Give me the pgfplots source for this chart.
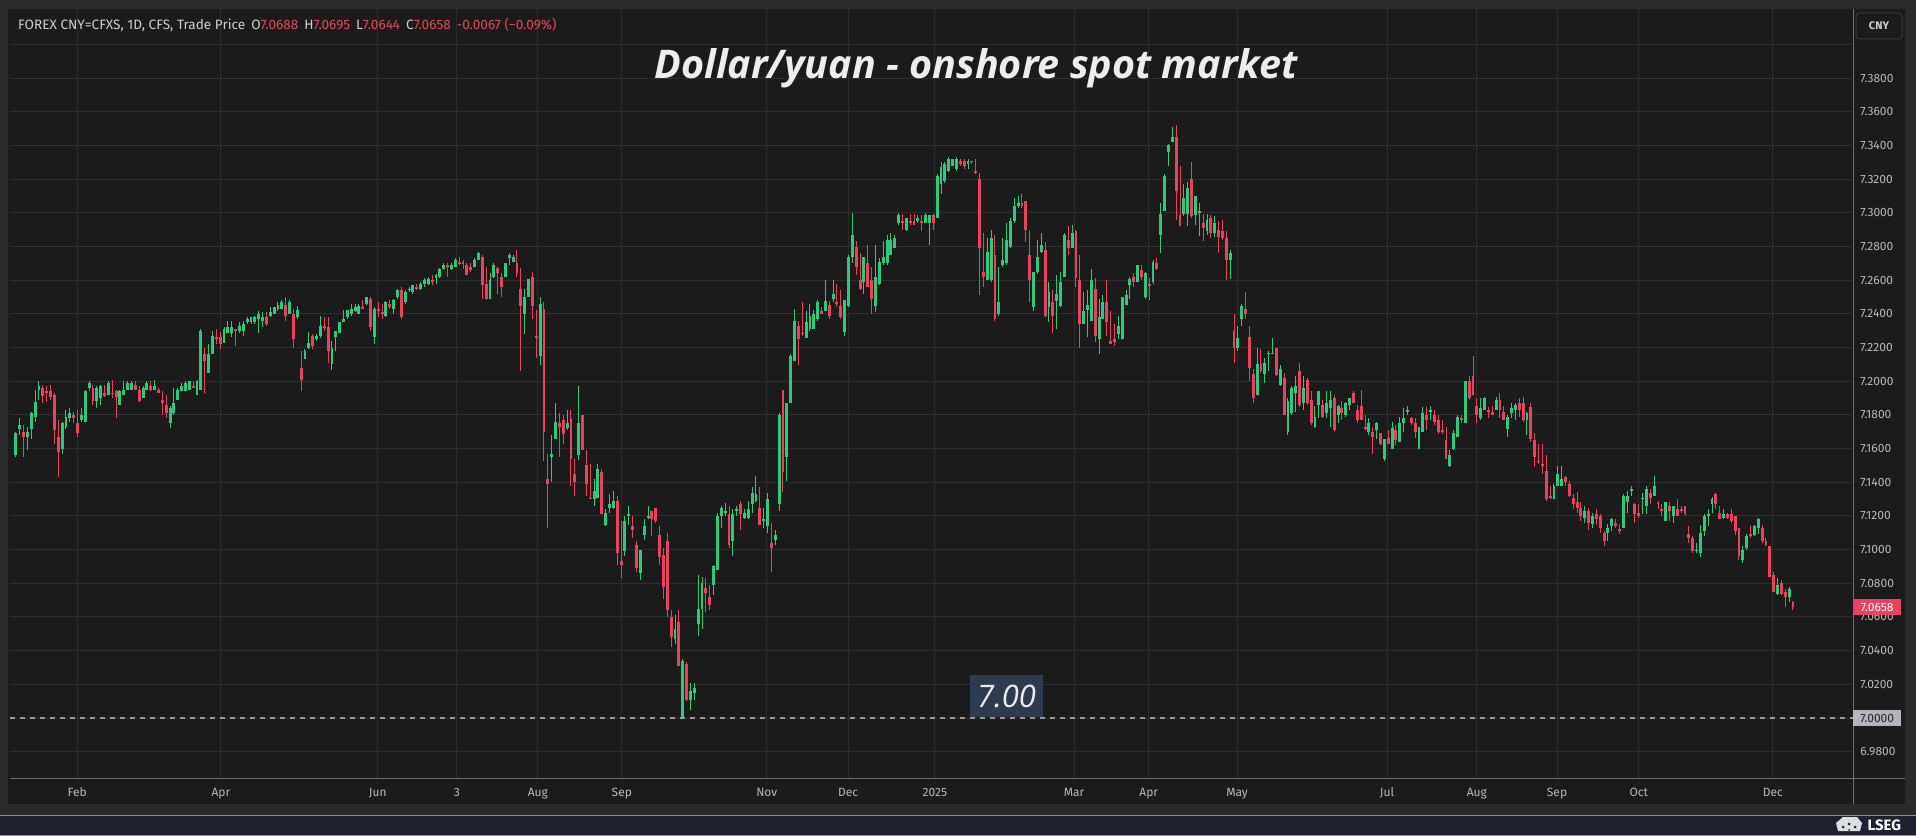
\documentclass[border=0pt]{standalone}
\usepackage{pgfplots}
\pgfplotsset{compat=1.18}
\usepackage{pgfplotstable}
\usepackage{fontspec}
\setmainfont{Fira Sans}
\newfontfamily\titlefont{Open Sans}

\definecolor{frame}{HTML}{2A2A2A}
\definecolor{panel}{HTML}{1B1B1B}
\definecolor{gridc}{HTML}{2C2C2C}
\definecolor{sepc}{HTML}{6E6E6E}
\definecolor{footer}{HTML}{1E2230}
\definecolor{footline}{HTML}{8A8E98}
\definecolor{ticktext}{HTML}{B8B8B8}
\definecolor{hdr}{HTML}{CFCFCF}
\definecolor{hred}{HTML}{E2475F}
\definecolor{upc}{HTML}{2DC97E}
\definecolor{dnc}{HTML}{E8425F}
\definecolor{dashc}{HTML}{9A9A9A}
\definecolor{annbox}{HTML}{2D3B50}
\definecolor{pxbox}{HTML}{B2B5BE}

% daily OHLC, i = trading-day index
\pgfplotstableread{
i o h l c
1 7.156 7.170 7.155 7.169
2 7.172 7.178 7.168 7.174
3 7.170 7.174 7.155 7.167
4 7.167 7.173 7.159 7.170
5 7.172 7.182 7.166 7.181
6 7.179 7.195 7.176 7.188
7 7.195 7.200 7.189 7.197
8 7.196 7.198 7.187 7.191
9 7.194 7.197 7.188 7.193
10 7.194 7.198 7.189 7.191
11 7.192 7.193 7.163 7.171
12 7.167 7.177 7.143 7.158
13 7.160 7.176 7.157 7.175
14 7.173 7.183 7.172 7.179
15 7.178 7.184 7.176 7.181
16 7.180 7.182 7.175 7.178
17 7.175 7.183 7.167 7.169
18 7.177 7.184 7.176 7.180
19 7.176 7.195 7.176 7.194
20 7.196 7.200 7.194 7.199
21 7.196 7.198 7.186 7.188
22 7.188 7.197 7.184 7.196
23 7.190 7.198 7.186 7.197
24 7.193 7.198 7.191 7.191
25 7.192 7.200 7.192 7.199
26 7.193 7.201 7.190 7.1925
27 7.194 7.195 7.178 7.191
28 7.186 7.195 7.186 7.194
29 7.192 7.200 7.192 7.195
30 7.195 7.200 7.195 7.199
31 7.195 7.200 7.195 7.199
32 7.198 7.200 7.195 7.195
33 7.195 7.197 7.188 7.188
34 7.190 7.197 7.190 7.196
35 7.195 7.200 7.195 7.199
36 7.197 7.200 7.194 7.195
37 7.195 7.201 7.195 7.197
38 7.195 7.196 7.193 7.193
39 7.189 7.194 7.180 7.187
40 7.186 7.192 7.178 7.181
41 7.175 7.185 7.172 7.184
42 7.181 7.196 7.180 7.187
43 7.189 7.196 7.189 7.195
44 7.194 7.199 7.194 7.197
45 7.194 7.200 7.194 7.199
46 7.195 7.200 7.195 7.200
47 7.197 7.200 7.196 7.1965
48 7.192 7.201 7.192 7.200
49 7.195 7.231 7.195 7.230
50 7.216 7.220 7.193 7.212
51 7.205 7.222 7.205 7.216
52 7.216 7.230 7.216 7.227
53 7.226 7.231 7.222 7.225
54 7.226 7.229 7.219 7.222
55 7.223 7.232 7.223 7.231
56 7.229 7.236 7.229 7.232
57 7.229 7.236 7.226 7.232
58 7.231 7.231 7.221 7.230
59 7.230 7.235 7.229 7.233
60 7.230 7.236 7.227 7.234
61 7.235 7.238 7.234 7.237
62 7.235 7.238 7.234 7.238
63 7.235 7.239 7.234 7.238
64 7.237 7.242 7.229 7.240
65 7.236 7.241 7.232 7.238
66 7.238 7.241 7.233 7.234
67 7.239 7.244 7.238 7.241
68 7.240 7.244 7.240 7.244
69 7.243 7.247 7.242 7.245
70 7.243 7.248 7.243 7.247
71 7.245 7.250 7.236 7.239
72 7.240 7.248 7.240 7.247
73 7.240 7.243 7.220 7.225
74 7.238 7.245 7.237 7.242
75 7.208 7.218 7.194 7.201
76 7.213 7.219 7.213 7.218
77 7.220 7.229 7.219 7.223
78 7.227 7.228 7.219 7.221
79 7.225 7.228 7.224 7.227
80 7.227 7.239 7.226 7.233
81 7.233 7.238 7.230 7.232
82 7.232 7.238 7.211 7.218
83 7.210 7.224 7.207 7.220
84 7.226 7.230 7.218 7.230
85 7.229 7.235 7.229 7.235
86 7.235 7.242 7.235 7.237
87 7.238 7.242 7.237 7.242
88 7.240 7.246 7.239 7.243
89 7.242 7.246 7.241 7.244
90 7.240 7.246 7.240 7.245
91 7.244 7.248 7.243 7.243
92 7.246 7.250 7.245 7.250
93 7.249 7.250 7.230 7.232
94 7.226 7.244 7.222 7.243
95 7.243 7.247 7.238 7.242
96 7.241 7.246 7.237 7.240
97 7.239 7.248 7.238 7.247
98 7.246 7.248 7.243 7.244
99 7.243 7.249 7.240 7.248
100 7.250 7.255 7.249 7.254
101 7.254 7.256 7.237 7.238
102 7.247 7.254 7.246 7.253
103 7.254 7.256 7.253 7.255
104 7.253 7.257 7.252 7.257
105 7.256 7.258 7.254 7.255
106 7.255 7.259 7.254 7.258
107 7.258 7.261 7.256 7.260
108 7.258 7.262 7.257 7.261
109 7.260 7.263 7.257 7.259
110 7.261 7.264 7.258 7.263
111 7.262 7.267 7.261 7.267
112 7.267 7.270 7.267 7.269
113 7.269 7.270 7.262 7.268
114 7.267 7.270 7.266 7.269
115 7.268 7.273 7.268 7.272
116 7.271 7.274 7.269 7.270
117 7.271 7.272 7.267 7.270
118 7.269 7.270 7.263 7.263
119 7.268 7.270 7.265 7.266
120 7.268 7.273 7.268 7.272
121 7.272 7.277 7.272 7.276
122 7.274 7.275 7.249 7.257
123 7.258 7.268 7.248 7.249
124 7.249 7.264 7.249 7.260
125 7.262 7.270 7.261 7.269
126 7.267 7.268 7.252 7.264
127 7.262 7.264 7.250 7.256
128 7.262 7.270 7.262 7.270
129 7.273 7.276 7.269 7.275
130 7.271 7.275 7.271 7.274
131 7.270 7.278 7.262 7.264
132 7.255 7.267 7.206 7.245
133 7.240 7.255 7.228 7.250
134 7.250 7.261 7.250 7.261
135 7.262 7.265 7.237 7.245
136 7.227 7.242 7.214 7.226
137 7.215 7.250 7.210 7.246
138 7.243 7.247 7.153 7.170
139 7.142 7.157 7.113 7.139
140 7.155 7.168 7.140 7.157
141 7.166 7.187 7.166 7.176
142 7.175 7.181 7.155 7.173
143 7.177 7.180 7.163 7.169
144 7.172 7.183 7.171 7.175
145 7.178 7.183 7.138 7.154
146 7.145 7.154 7.132 7.140
147 7.156 7.197 7.153 7.175
148 7.180 7.180 7.159 7.159
149 7.150 7.159 7.132 7.139
150 7.131 7.151 7.130 7.130
151 7.130 7.142 7.126 7.135
152 7.131 7.151 7.131 7.148
153 7.146 7.148 7.121 7.121
154 7.115 7.124 7.114 7.122
155 7.125 7.133 7.122 7.127
156 7.125 7.135 7.124 7.129
157 7.129 7.132 7.091 7.098
158 7.093 7.117 7.083 7.091
159 7.099 7.120 7.096 7.117
160 7.120 7.126 7.115 7.121
161 7.114 7.120 7.107 7.112
162 7.103 7.105 7.087 7.089
163 7.086 7.100 7.082 7.100
164 7.109 7.118 7.106 7.114
165 7.119 7.126 7.118 7.120
166 7.123 7.123 7.108 7.118
167 7.125 7.125 7.116 7.117
168 7.109 7.114 7.091 7.096
169 7.097 7.101 7.071 7.078
170 7.105 7.110 7.060 7.064
171 7.060 7.064 7.042 7.048
172 7.047 7.061 7.044 7.053
173 7.057 7.064 7.031 7.031
174 7.001 7.035 7.000 7.034
175 7.032 7.033 7.010 7.011
176 7.011 7.021 7.005 7.016
177 7.015 7.021 7.011 7.018
178 7.056 7.085 7.049 7.065
179 7.065 7.084 7.053 7.080
180 7.077 7.083 7.063 7.074
181 7.072 7.079 7.064 7.067
182 7.079 7.091 7.073 7.090
183 7.088 7.122 7.088 7.120
184 7.120 7.126 7.113 7.125
185 7.122 7.128 7.120 7.123
186 7.121 7.126 7.101 7.103
187 7.105 7.124 7.096 7.121
188 7.123 7.126 7.120 7.124
189 7.127 7.129 7.112 7.121
190 7.119 7.124 7.118 7.122
191 7.119 7.129 7.118 7.124
192 7.127 7.137 7.122 7.134
193 7.129 7.144 7.128 7.133
194 7.125 7.137 7.115 7.115
195 7.117 7.125 7.113 7.118
196 7.114 7.134 7.110 7.130
197 7.104 7.116 7.087 7.101
198 7.106 7.112 7.103 7.109
199 7.127 7.181 7.123 7.180
200 7.195 7.195 7.134 7.146
201 7.155 7.187 7.141 7.187
202 7.187 7.216 7.187 7.215
203 7.212 7.243 7.212 7.236
204 7.233 7.236 7.210 7.225
205 7.229 7.247 7.227 7.228
206 7.226 7.242 7.226 7.235
207 7.231 7.246 7.230 7.239
208 7.231 7.242 7.231 7.240
209 7.237 7.248 7.236 7.247
210 7.242 7.244 7.240 7.240
211 7.242 7.260 7.242 7.248
212 7.245 7.248 7.237 7.239
213 7.249 7.260 7.247 7.252
214 7.247 7.258 7.244 7.246
215 7.245 7.254 7.237 7.238
216 7.229 7.248 7.227 7.248
217 7.245 7.275 7.244 7.274
218 7.274 7.300 7.270 7.287
219 7.280 7.283 7.263 7.268
220 7.260 7.276 7.254 7.255
221 7.259 7.274 7.252 7.274
222 7.270 7.281 7.256 7.256
223 7.260 7.268 7.240 7.249
224 7.245 7.281 7.241 7.262
225 7.258 7.273 7.257 7.271
226 7.270 7.283 7.269 7.274
227 7.270 7.287 7.269 7.284
228 7.275 7.288 7.275 7.284
229 7.279 7.287 7.279 7.285
230 7.294 7.300 7.293 7.299
231 7.295 7.299 7.290 7.294
232 7.290 7.297 7.289 7.297
233 7.295 7.299 7.293 7.294
234 7.295 7.299 7.293 7.293
235 7.295 7.299 7.294 7.297
236 7.295 7.299 7.289 7.294
237 7.294 7.300 7.294 7.299
238 7.294 7.299 7.281 7.299
239 7.299 7.299 7.290 7.294
240 7.297 7.323 7.297 7.322
241 7.317 7.330 7.311 7.327
242 7.319 7.330 7.318 7.329
243 7.325 7.333 7.324 7.332
244 7.328 7.332 7.328 7.332
245 7.326 7.333 7.325 7.332
246 7.331 7.332 7.328 7.329
247 7.331 7.332 7.326 7.328
248 7.329 7.332 7.326 7.331
249 7.331 7.331 7.329 7.330
250 7.325 7.332 7.323 7.324
251 7.320 7.324 7.251 7.279
252 7.265 7.288 7.256 7.262
253 7.260 7.285 7.260 7.277
254 7.260 7.290 7.259 7.285
255 7.275 7.287 7.236 7.237
256 7.240 7.268 7.239 7.247
257 7.269 7.285 7.268 7.272
258 7.270 7.294 7.269 7.284
259 7.280 7.297 7.279 7.295
260 7.295 7.309 7.294 7.304
261 7.304 7.310 7.303 7.306
262 7.306 7.311 7.303 7.304
263 7.307 7.307 7.283 7.290
264 7.275 7.290 7.247 7.260
265 7.244 7.265 7.242 7.265
266 7.265 7.284 7.264 7.274
267 7.277 7.288 7.276 7.281
268 7.278 7.283 7.238 7.239
269 7.244 7.259 7.235 7.253
270 7.247 7.254 7.229 7.239
271 7.248 7.263 7.231 7.252
272 7.245 7.265 7.244 7.259
273 7.262 7.288 7.262 7.287
274 7.284 7.292 7.275 7.279
275 7.279 7.293 7.279 7.288
276 7.289 7.290 7.256 7.261
277 7.260 7.275 7.220 7.234
278 7.234 7.253 7.234 7.242
279 7.242 7.254 7.226 7.245
280 7.236 7.267 7.236 7.260
281 7.255 7.261 7.223 7.227
282 7.225 7.249 7.216 7.238
283 7.237 7.251 7.237 7.247
284 7.247 7.260 7.227 7.235
285 7.224 7.242 7.222 7.222
286 7.225 7.234 7.221 7.223
287 7.228 7.239 7.225 7.233
288 7.225 7.250 7.225 7.250
289 7.245 7.254 7.245 7.251
290 7.257 7.262 7.249 7.261
291 7.262 7.264 7.256 7.259
292 7.259 7.269 7.259 7.269
293 7.266 7.269 7.260 7.262
294 7.250 7.265 7.249 7.264
295 7.258 7.261 7.248 7.257
296 7.259 7.272 7.258 7.271
297 7.270 7.273 7.266 7.267
298 7.287 7.306 7.276 7.299
299 7.301 7.323 7.301 7.322
300 7.336 7.341 7.328 7.340
301 7.342 7.351 7.342 7.345
302 7.345 7.352 7.296 7.313
303 7.299 7.328 7.292 7.292
304 7.299 7.317 7.298 7.309
305 7.299 7.318 7.292 7.315
306 7.320 7.330 7.297 7.298
307 7.299 7.310 7.293 7.310
308 7.300 7.306 7.286 7.301
309 7.294 7.299 7.283 7.291
310 7.289 7.299 7.287 7.296
311 7.297 7.299 7.285 7.288
312 7.288 7.298 7.286 7.294
313 7.290 7.295 7.276 7.286
314 7.289 7.296 7.284 7.285
315 7.285 7.289 7.260 7.272
316 7.272 7.278 7.261 7.276
317 7.230 7.240 7.211 7.220
318 7.220 7.233 7.218 7.226
319 7.237 7.246 7.233 7.245
320 7.243 7.253 7.237 7.240
321 7.226 7.233 7.200 7.208
322 7.204 7.207 7.187 7.190
323 7.192 7.220 7.192 7.210
324 7.210 7.219 7.205 7.206
325 7.204 7.214 7.199 7.211
326 7.216 7.218 7.206 7.217
327 7.216 7.226 7.216 7.217
328 7.220 7.220 7.203 7.204
329 7.198 7.210 7.197 7.207
330 7.202 7.205 7.180 7.180
331 7.170 7.190 7.168 7.188
332 7.181 7.197 7.180 7.196
333 7.193 7.203 7.182 7.197
334 7.206 7.211 7.185 7.186
335 7.187 7.203 7.183 7.196
336 7.201 7.202 7.186 7.187
337 7.189 7.194 7.174 7.175
338 7.173 7.185 7.172 7.179
339 7.186 7.194 7.178 7.194
340 7.186 7.189 7.178 7.179
341 7.181 7.194 7.178 7.187
342 7.184 7.194 7.173 7.189
343 7.190 7.192 7.170 7.171
344 7.180 7.186 7.175 7.185
345 7.184 7.188 7.177 7.181
346 7.180 7.188 7.179 7.187
347 7.186 7.190 7.183 7.190
348 7.193 7.194 7.187 7.187
349 7.183 7.186 7.175 7.177
350 7.185 7.195 7.177 7.177
351 7.173 7.180 7.171 7.172
352 7.170 7.178 7.168 7.175
353 7.170 7.173 7.157 7.167
354 7.171 7.176 7.166 7.175
355 7.169 7.169 7.162 7.163
356 7.154 7.166 7.153 7.166
357 7.166 7.171 7.163 7.163
358 7.160 7.176 7.160 7.172
359 7.171 7.174 7.162 7.165
360 7.164 7.179 7.164 7.175
361 7.175 7.184 7.170 7.178
362 7.182 7.185 7.180 7.183
363 7.178 7.179 7.174 7.175
364 7.175 7.178 7.166 7.170
365 7.160 7.173 7.160 7.173
366 7.170 7.185 7.170 7.181
367 7.180 7.185 7.171 7.177
368 7.182 7.185 7.177 7.183
369 7.180 7.183 7.174 7.176
370 7.177 7.180 7.169 7.170
371 7.171 7.177 7.169 7.170
372 7.165 7.173 7.154 7.154
373 7.150 7.159 7.149 7.156
374 7.160 7.171 7.159 7.169
375 7.167 7.180 7.167 7.179
376 7.178 7.180 7.175 7.177
377 7.175 7.200 7.175 7.200
378 7.200 7.203 7.189 7.190
379 7.203 7.215 7.192 7.192
380 7.185 7.190 7.175 7.180
381 7.178 7.190 7.177 7.184
382 7.183 7.191 7.183 7.190
383 7.183 7.185 7.178 7.182
384 7.182 7.185 7.180 7.180
385 7.183 7.191 7.183 7.189
386 7.189 7.193 7.178 7.183
387 7.182 7.185 7.177 7.177
388 7.172 7.180 7.167 7.179
389 7.181 7.187 7.178 7.184
390 7.183 7.187 7.177 7.186
391 7.187 7.190 7.179 7.183
392 7.187 7.191 7.176 7.177
393 7.177 7.182 7.168 7.181
394 7.185 7.187 7.164 7.166
395 7.165 7.169 7.149 7.155
396 7.153 7.163 7.151 7.152
397 7.151 7.163 7.145 7.150
398 7.147 7.156 7.129 7.130
399 7.132 7.138 7.130 7.131
400 7.130 7.139 7.130 7.138
401 7.138 7.150 7.138 7.145
402 7.138 7.150 7.138 7.142
403 7.143 7.144 7.138 7.140
404 7.139 7.141 7.131 7.132
405 7.131 7.133 7.124 7.127
406 7.128 7.134 7.122 7.125
407 7.125 7.128 7.117 7.120
408 7.119 7.126 7.116 7.123
409 7.123 7.125 7.112 7.116
410 7.115 7.122 7.113 7.120
411 7.121 7.124 7.115 7.118
412 7.120 7.121 7.110 7.113
413 7.110 7.111 7.102 7.105
414 7.110 7.115 7.105 7.113
415 7.114 7.119 7.111 7.118
416 7.116 7.118 7.113 7.114
417 7.112 7.115 7.109 7.1115
418 7.113 7.133 7.113 7.132
419 7.128 7.135 7.122 7.132
420 7.135 7.138 7.132 7.136
421 7.127 7.128 7.116 7.121
422 7.122 7.127 7.119 7.120
423 7.130 7.134 7.121 7.131
424 7.126 7.138 7.121 7.136
425 7.134 7.136 7.127 7.131
426 7.132 7.144 7.132 7.138
427 7.128 7.129 7.124 7.127
428 7.124 7.127 7.120 7.123
429 7.117 7.128 7.117 7.128
430 7.126 7.128 7.117 7.123
431 7.120 7.126 7.116 7.126
432 7.124 7.130 7.120 7.120
433 7.124 7.126 7.122 7.123
434 7.126 7.126 7.120 7.121
435 7.109 7.114 7.104 7.107
436 7.107 7.108 7.098 7.099
437 7.099 7.104 7.098 7.100
438 7.098 7.115 7.096 7.110
439 7.111 7.121 7.108 7.120
440 7.120 7.124 7.114 7.121
441 7.127 7.131 7.122 7.130
442 7.133 7.134 7.124 7.127
443 7.122 7.126 7.118 7.118
444 7.119 7.124 7.118 7.121
445 7.121 7.122 7.118 7.119
446 7.121 7.124 7.116 7.117
447 7.120 7.120 7.109 7.111
448 7.113 7.113 7.094 7.096
449 7.094 7.102 7.092 7.100
450 7.101 7.109 7.100 7.108
451 7.109 7.115 7.107 7.108
452 7.109 7.115 7.108 7.114
453 7.113 7.119 7.109 7.118
454 7.113 7.115 7.104 7.105
455 7.105 7.107 7.102 7.103
456 7.102 7.102 7.084 7.084
457 7.085 7.087 7.075 7.075
458 7.074 7.083 7.073 7.079
459 7.080 7.082 7.073 7.074
460 7.075 7.077 7.066 7.072
461 7.072 7.078 7.069 7.077
462 7.0688 7.0695 7.0644 7.0658
}\candles

\pgfplotsset{
  wick/.style={forget plot, draw=none, mark=none,
    error bars/y dir=both, error bars/y explicit, error bars/error mark=none,
    error bars/error bar style={draw=#1, line width=1pt}},
  body/.style={forget plot, draw=none, mark=none,
    error bars/y dir=both, error bars/y explicit, error bars/error mark=none,
    error bars/error bar style={draw=#1, line width=2.9pt}},
}

\begin{document}
\begin{tikzpicture}[x=1pt,y=1pt]
% frame, chart panel, footer
\path[use as bounding box, fill=frame] (0,0) rectangle (1916,836);
\fill[panel] (8,32) rectangle (1905,827);
\fill[footer] (0,0) rectangle (1916,21);
\draw[footline, line width=1pt] (0,21) -- (1916,21);
\draw[footline, line width=1pt] (0,0.5) -- (1916,0.5);

\begin{axis}[
  at={(10pt,58pt)}, anchor=south west,
  scale only axis, width=1843pt, height=769pt,
  xmin=-0.52, xmax=477.6, ymin=6.9644, ymax=7.4210,
  axis line style={draw=none},
  major tick length=0pt,
  grid=major,
  major grid style={draw=gridc, line width=1pt},
  xtick={16.9,54.2,94.9,115.4,136.4,158.2,195.8,216.9,239.4,275.5,294.9,317.8,356.7,380.0,400.8,422.0,456.8},
  xticklabels={Feb,Apr,Jun,3,Aug,Sep,Nov,Dec,2025,Mar,Apr,May,Jul,Aug,Sep,Oct,Dec},
  ytick={6.98,7.00,7.02,7.04,7.06,7.08,7.10,7.12,7.14,7.16,7.18,7.20,7.22,7.24,7.26,7.28,7.30,7.32,7.34,7.36,7.38},
  extra y ticks={7.40}, extra y tick labels={},
  extra y tick style={grid=major},
  yticklabel pos=right,
  /pgf/number format/assume math mode=true,
  yticklabel style={anchor=west, inner sep=0pt, xshift=7pt,
    font=\fontsize{12}{12}\selectfont, text=ticktext,
    /pgf/number format/.cd, fixed, fixed zerofill, precision=4},
  xticklabel style={anchor=base, inner sep=0pt, yshift=-18pt,
    font=\fontsize{12}{12}\selectfont, text=ticktext},
  clip=true,
]
% up candles
\addplot[wick=upc, restrict expr to domain={\thisrow{c}-\thisrow{o}}{0:1}]
  table[x=i, y expr={(\thisrow{h}+\thisrow{l})/2}, y error expr={(\thisrow{h}-\thisrow{l})/2}] {\candles};
\addplot[body=upc, restrict expr to domain={\thisrow{c}-\thisrow{o}}{0:1}]
  table[x=i, y expr={(\thisrow{o}+\thisrow{c})/2}, y error expr={max(abs(\thisrow{c}-\thisrow{o})/2,0.0003)}] {\candles};
% down candles
\addplot[wick=dnc, restrict expr to domain={\thisrow{c}-\thisrow{o}}{-1:-0.00001}]
  table[x=i, y expr={(\thisrow{h}+\thisrow{l})/2}, y error expr={(\thisrow{h}-\thisrow{l})/2}] {\candles};
\addplot[body=dnc, restrict expr to domain={\thisrow{c}-\thisrow{o}}{-1:-0.00001}]
  table[x=i, y expr={(\thisrow{o}+\thisrow{c})/2}, y error expr={max(abs(\thisrow{c}-\thisrow{o})/2,0.0003)}] {\candles};
% 7.00 reference line
\draw[dashc, line width=1.5pt, dash pattern=on 5pt off 5pt] (axis cs:-0.52,7) -- (axis cs:477.6,7);
\end{axis}

% separators of the price and time scales
\draw[sepc, line width=1pt] (1853,32) -- (1853,827);
\draw[sepc, line width=1pt] (10,58) -- (1905,58);

% price-scale badges
\node[fill=pxbox, text=black!85, inner sep=0pt, minimum width=48pt, minimum height=16pt, anchor=west,
  font=\fontsize{12}{12}\selectfont] at (1853,118) {7.0000};
\node[fill=dnc, text=white, inner sep=0pt, minimum width=48pt, minimum height=16pt, anchor=west,
  font=\fontsize{12}{12}\selectfont] at (1853,229) {7.0658};
\draw[gray!45!black, line width=1pt, rounded corners=3pt, fill=panel] (1856,797) rectangle (1902,823);
\node[text=hdr, font=\bfseries\fontsize{11}{11}\selectfont] at (1879,810) {CNY};

% header and title
\node[anchor=base west, inner sep=0pt, text=hdr, font=\fontsize{13.6}{15}\selectfont] at (18,806.5)
  {FOREX CNY=CFXS, 1D, CFS, Trade Price\hspace{6pt}O\textcolor{hred}{7.0688}\hspace{6pt}H\textcolor{hred}{7.0695}\hspace{6pt}L\textcolor{hred}{7.0644}\hspace{6pt}C\textcolor{hred}{7.0658}\hspace{6pt}\textcolor{hred}{-0.0067 (−0.09\%)}};
\node[text=white!93!black, font=\titlefont\bfseries\itshape\fontsize{39.5}{40}\selectfont] at (976,768)
  {Dollar/yuan - onshore spot market};

% 7.00 annotation
\node[fill=annbox, text=white!92!black, inner xsep=4pt, minimum width=73pt, minimum height=42pt,
  font=\titlefont\itshape\fontsize{31}{31}\selectfont] at (1006.5,140) {7.00};

% LSEG mark
\fill[white!85!footer] (1838,5) -- (1860,5) -- (1862,13) -- (1857,19) -- (1843,19) -- (1836,13) -- cycle;
\fill[footer] (1843,9) circle (1.5pt) (1849,12) circle (1.5pt) (1855,9) circle (1.5pt) (1849,6) circle (1pt);
\node[anchor=west, text=white, font=\bfseries\fontsize{15}{15}\selectfont] at (1864,11) {LSEG};
\end{tikzpicture}
\end{document}
